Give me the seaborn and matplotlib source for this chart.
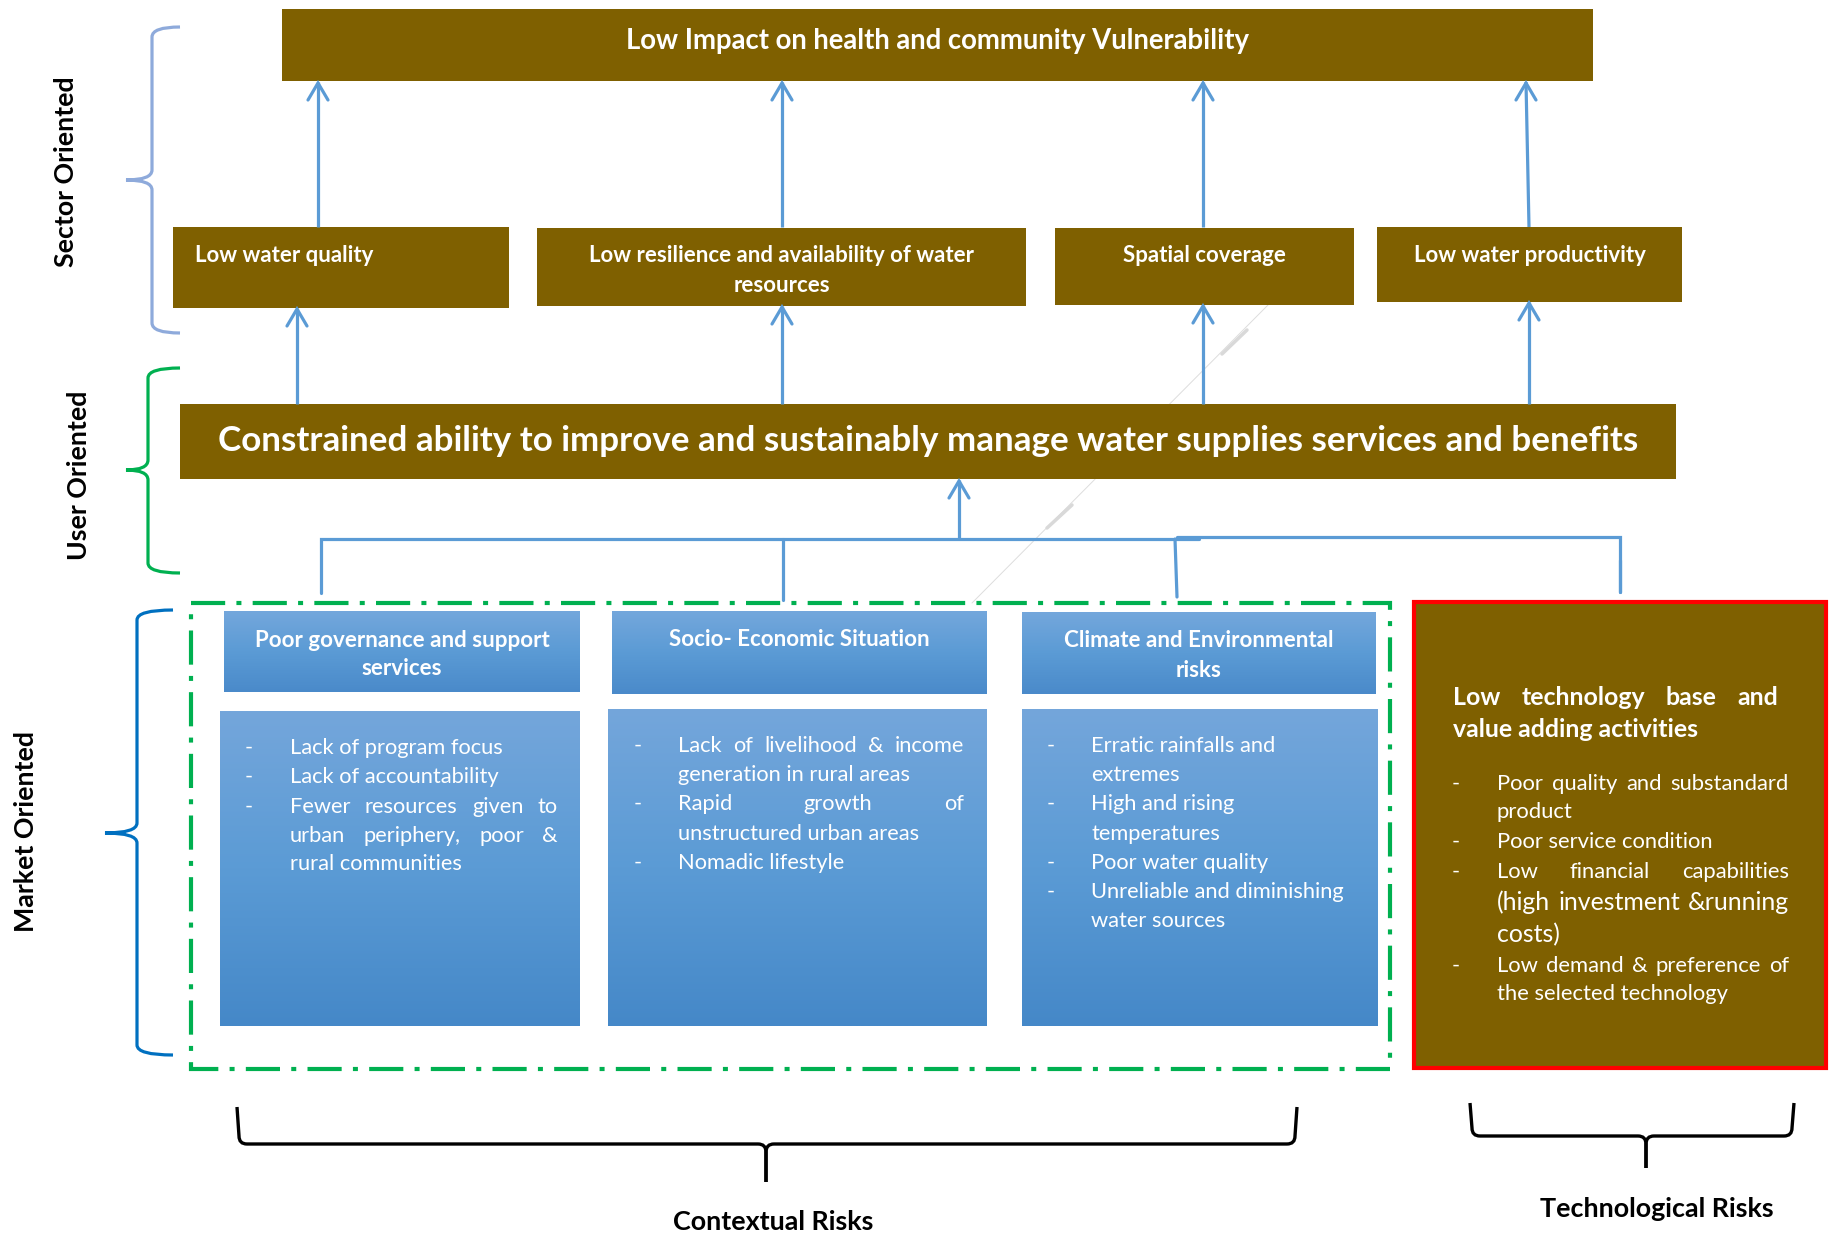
import numpy as np
import matplotlib
matplotlib.use("Agg")
import matplotlib.pyplot as plt
import seaborn as sns
from matplotlib.patches import Rectangle, PathPatch
from matplotlib.path import Path
from matplotlib.colors import LinearSegmentedColormap

sns.set_theme(style="white")
plt.rcParams["font.family"] = ["Lato", "DejaVu Sans"]

# ---------------- text content ----------------
top_outcome = "Low Impact on health and community Vulnerability"
sector_items = [["Low water quality"],
                ["Low resilience and availability of water", "resources"],
                ["Spatial coverage"],
                ["Low water productivity"]]
core_problem = "Constrained ability to improve and sustainably manage water supplies services and benefits"
context_headers = [["Poor governance and support", "services"],
                   ["Socio- Economic Situation"],
                   ["Climate and Environmental", "risks"]]
context_items = [
    [["Lack of program focus"], ["Lack of accountability"],
     ["Fewer resources given to", "urban periphery, poor &", "rural communities"]],
    [["Lack of livelihood & income", "generation in rural areas"],
     ["Rapid growth of", "unstructured urban areas"], ["Nomadic lifestyle"]],
    [["Erratic rainfalls and", "extremes"], ["High and rising", "temperatures"],
     ["Poor water quality"], ["Unreliable and diminishing", "water sources"]],
]
tech_title = ["Low technology base and", "value adding activities"]
tech_items = [["Poor quality and substandard", "product"],
              ["Poor service condition"],
              ["Low financial capabilities", "(high investment &running", "costs)"],
              ["Low demand & preference of", "the selected technology"]]
tech_large_lines = ["(high investment &running", "costs)"]
level_labels = ["Sector Oriented", "User Oriented", "Market Oriented"]
risk_labels = ["Contextual Risks", "Technological Risks"]

# ---------------- styles ----------------
BROWN = "#7F6000"
ARROW = "#5B9BD5"
W, H = 1832, 1235

fig = plt.figure(figsize=(W / 100, H / 100), dpi=100)
ax = fig.add_axes([0, 0, 1, 1])
ax.set_xlim(0, W)
ax.set_ylim(H, 0)
ax.axis("off")
R = fig.canvas.get_renderer()


def text_w(s, size, weight="normal"):
    t = ax.text(0, 0, s, fontsize=size, fontweight=weight)
    w = t.get_window_extent(renderer=R).width
    t.remove()
    return w


def fit(s, target, weight="normal"):
    return 20 * target / text_w(s, 20, weight)


def rect(x0, y0, x1, y1, fc, ec="none", lw=0, z=2):
    ax.add_patch(Rectangle((x0, y0), x1 - x0, y1 - y0, facecolor=fc,
                           edgecolor=ec, linewidth=lw, zorder=z))


def grad_box(x0, y0, x1, y1, colors):
    cmap = LinearSegmentedColormap.from_list("g", colors)
    arr = np.linspace(0, 1, 256).reshape(-1, 1)
    ax.imshow(arr, cmap=cmap, extent=(x0, x1, y1, y0), aspect="auto",
              origin="upper", zorder=2, interpolation="bilinear")


def arrow_up(x_bot, y_bot, x_top, y_top):
    ax.plot([x_bot, x_top], [y_bot, y_top], color=ARROW, lw=2.3,
            solid_capstyle="butt", zorder=3)
    ax.plot([x_top - 10, x_top, x_top + 10], [y_top + 18, y_top + 1, y_top + 18],
            color=ARROW, lw=2.3, solid_joinstyle="miter", solid_capstyle="round", zorder=3)


def draw_line(x0, x1, y, s, size, weight, justify, color="white"):
    if not justify or len(s.split()) < 2:
        ax.text(x0, y, s, ha="left", va="baseline", fontsize=size,
                fontweight=weight, color=color, zorder=5)
        return
    words = s.split()
    ws = [text_w(w, size, weight) for w in words]
    gap = (x1 - x0 - sum(ws)) / (len(words) - 1)
    x = x0
    for w, wd in zip(words, ws):
        ax.text(x, y, w, ha="left", va="baseline", fontsize=size,
                fontweight=weight, color=color, zorder=5)
        x += wd + gap


def bullets(items, dash_x, x0, x1, baselines, size, justify, sizes=None):
    sizes = sizes or {}
    k = 0
    for item in items:
        ax.text(dash_x, baselines[k], "-", ha="left", va="baseline",
                fontsize=size, color="white", zorder=5)
        for j, line in enumerate(item):
            last = j == len(item) - 1
            draw_line(x0, x1, baselines[k], line, sizes.get(line, size), "normal",
                      justify and not last)
            k += 1


def vbrace(x_end, x_line, x_tip, y_top, y_mid, y_bot, color, lw=2.3, r=10):
    verts = [(x_end, y_top), (x_line, y_top), (x_line, y_top + r),
             (x_line, y_mid - r), (x_line, y_mid), (x_tip, y_mid),
             (x_line, y_mid), (x_line, y_mid + r),
             (x_line, y_bot - r), (x_line, y_bot), (x_end, y_bot)]
    codes = [Path.MOVETO, Path.CURVE3, Path.CURVE3,
             Path.LINETO, Path.CURVE3, Path.CURVE3,
             Path.CURVE3, Path.CURVE3,
             Path.LINETO, Path.CURVE3, Path.CURVE3]
    ax.add_patch(PathPatch(Path(verts, codes), facecolor="none", edgecolor=color,
                           lw=lw, zorder=3))


def hbrace(x_left, x_right, y_top, y_h, x_mid, y_tip, color="black", lw=2.4, r=8):
    for xe, sgn in ((x_left, 1), (x_right, -1)):
        verts = [(xe, y_top), (xe + sgn * 2, y_h - r), (xe + sgn * 2, y_h),
                 (xe + sgn * (2 + r), y_h), (x_mid - sgn * r, y_h),
                 (x_mid, y_h), (x_mid, y_h + r), (x_mid, y_tip)]
        codes = [Path.MOVETO, Path.LINETO, Path.CURVE3, Path.CURVE3,
                 Path.LINETO, Path.CURVE3, Path.CURVE3, Path.LINETO]
        ax.add_patch(PathPatch(Path(verts, codes), facecolor="none", edgecolor=color,
                               lw=lw, zorder=3, capstyle="butt"))


# ---------------- faint guide line artifact ----------------
ax.plot([1268, 972], [305, 603], color="#DDDDDD", lw=0.7, zorder=1)
for (xa, ya, xb, yb) in [(1247, 330, 1222, 354), (1072, 505, 1047, 528)]:
    ax.plot([xa, xb], [ya, yb], color="#D9D9D9", lw=2.5, zorder=1)

# ---------------- top outcome ----------------
rect(282, 9, 1593, 81, BROWN)
s_top = fit(top_outcome, 625, "bold")
ax.text(937, 49, top_outcome, ha="center", va="baseline", fontsize=s_top,
        fontweight="bold", color="white", zorder=5)

# ---------------- sector row ----------------
sector_boxes = [(173, 227, 509, 308), (537, 228, 1026, 306),
                (1055, 228, 1354, 305), (1377, 227, 1682, 302)]
sector_fit_w = [178, 389, 163, 230]
s_sec = np.median([fit(it[0], w, "bold") for it, w in zip(sector_items, sector_fit_w)])
for i, (b, it) in enumerate(zip(sector_boxes, sector_items)):
    rect(*b, BROWN)
    for j, line in enumerate(it):
        if i == 0:
            ax.text(195, 262, line, ha="left", va="baseline", fontsize=s_sec,
                    fontweight="bold", color="white", zorder=5)
        else:
            cx = (b[0] + b[2]) / 2
            ax.text(cx, 262 + 30 * j, line, ha="center", va="baseline", fontsize=s_sec,
                    fontweight="bold", color="white", zorder=5)

for xb, xt in [(318, 318), (782, 782), (1203, 1203), (1529, 1526)]:
    arrow_up(xb, 227, xt, 82)

# ---------------- core problem ----------------
rect(180, 404, 1676, 479, BROWN)
s_core = fit(core_problem, 1422, "bold")
ax.text(928, 451, core_problem, ha="center", va="baseline", fontsize=s_core,
        fontweight="bold", color="white", zorder=5)
for xb, yt in [(297, 308), (782, 306), (1203, 305), (1529, 302)]:
    arrow_up(xb, 404, xb, yt)

# ---------------- connectors ----------------
ax.plot([321, 321, 1199], [593, 539, 539], color=ARROW, lw=2.3, zorder=3,
        solid_joinstyle="miter")
ax.plot([783, 783], [539, 600], color=ARROW, lw=2.3, zorder=3)
ax.plot([1175, 1177], [539, 597], color=ARROW, lw=2.3, zorder=3)
ax.plot([1177, 1620, 1620], [537, 537, 592], color=ARROW, lw=2.3, zorder=3,
        solid_joinstyle="miter")
arrow_up(959, 539, 959, 480)

# ---------------- contextual area ----------------
ax.add_patch(Rectangle((191, 603), 1390 - 191, 1069 - 603, facecolor="none",
                       edgecolor="#00B050", lw=3, linestyle=(0, (8.2, 2.7, 1.2, 2.7)),
                       zorder=2))

hdr_boxes = [(224, 611, 580, 692), (612, 611, 987, 694), (1022, 612, 1376, 694)]
hdr_fit_w = [294, 256, 269]
s_hdr = np.median([fit(h[0], w, "bold") for h, w in zip(context_headers, hdr_fit_w)])
hdr_base = [[647, 675], [646], [647, 677]]
for b, h, bl in zip(hdr_boxes, context_headers, hdr_base):
    grad_box(*b, ["#74A7DC", "#5B9BD5", "#4A8ACA"])
    cx = (b[0] + b[2]) / 2
    for line, y in zip(h, bl):
        ax.text(cx, y, line, ha="center", va="baseline", fontsize=s_hdr,
                fontweight="bold", color="white", zorder=5)

cnt_boxes = [(220, 711, 580, 1026), (608, 709, 987, 1026), (1022, 709, 1378, 1026)]
s_cnt = fit("Lack of program focus", 214)
cnt_layout = [
    (245, 290, 558, [754, 783, 813, 842, 870], True),
    (634, 678, 964, [752, 781, 810, 840, 869], True),
    (1047, 1091, 1352, [752, 781, 810, 840, 869, 898, 927], False),
]
for b, items, (dx, x0, x1, bl, just) in zip(cnt_boxes, context_items, cnt_layout):
    grad_box(*b, ["#74A6DB", "#5B9BD5", "#4588C8"])
    bullets(items, dx, x0, x1, bl, s_cnt, just)

# ---------------- technological box ----------------
rect(1414, 602, 1826, 1068, BROWN, ec="#FF0000", lw=3)
s_tt = fit(tech_title[1], 245, "bold")
draw_line(1453, 1778, 705, tech_title[0], s_tt, "bold", True)
draw_line(1453, 1778, 737, tech_title[1], s_tt, "bold", False)
s_tb = fit("Poor service condition", 216)
s_big = fit(tech_large_lines[0], 290)
bullets(tech_items, 1452, 1497, 1789, [790, 818, 848, 878, 910, 942, 972, 1000], s_tb, True,
        sizes={ln: s_big for ln in tech_large_lines})
ax.plot([1620, 1620], [560, 592], color=ARROW, lw=2.3, zorder=3)

# ---------------- level braces and labels ----------------
vbrace(180, 152, 126, 27, 180, 333, "#8EAADB")
vbrace(180, 148, 126, 368, 470, 573, "#00B050")
vbrace(173, 137, 105, 610, 833, 1055, "#0070C0")
lab_pos = [(66, 172, 190), (79, 475, 170), (26, 832, 205)]
s_lab = np.median([fit(t, L, "bold") for t, (_, _, L) in zip(level_labels, lab_pos)])
for t, (x, y, _) in zip(level_labels, lab_pos):
    ax.text(x, y, t, rotation=90, ha="center", va="center", fontsize=s_lab,
            fontweight="bold", color="black", zorder=5)

# ---------------- bottom braces ----------------
hbrace(237, 1297, 1107, 1144, 766, 1182)
hbrace(1470, 1794, 1103, 1136, 1646, 1168)
for t, x, y, w in [(risk_labels[0], 773, 1230, 201), (risk_labels[1], 1657, 1217, 234)]:
    ax.text(x, y, t, ha="center", va="baseline", fontsize=fit(t, w, "bold"),
            fontweight="bold", color="black", zorder=5)

ax.set_xlim(0, W)
ax.set_ylim(H, 0)
fig.savefig("out.png", dpi=100)
